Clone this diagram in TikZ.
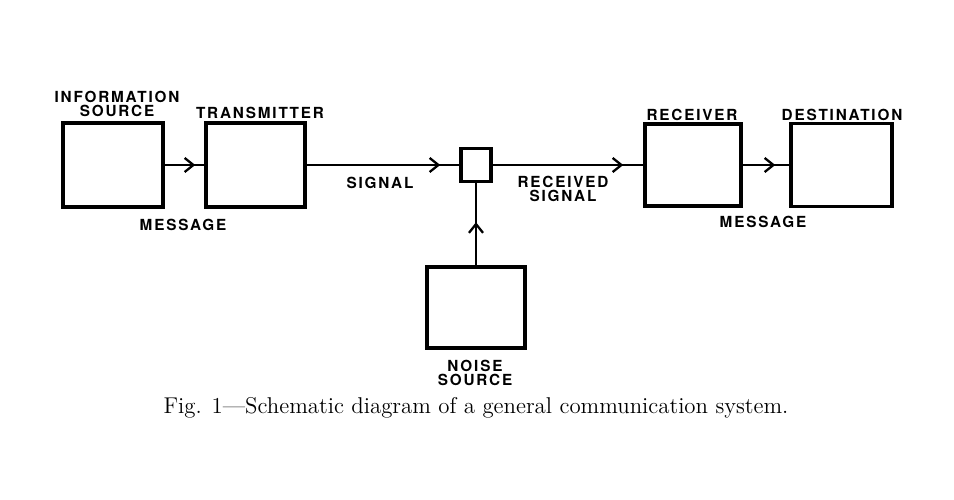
\documentclass[tikz,border=0pt]{standalone}
\usepackage{fontspec}
\newfontfamily\labelfont[LetterSpace=12]{TeX Gyre Heros}
\usetikzlibrary{arrows.meta,decorations.markings}

\tikzset{
    block/.style={draw, line width=2.1pt, inner sep=0pt, outer sep=1pt},
    lbl/.style={font=\labelfont\bfseries\fontsize{8.7}{7.9}\selectfont, align=center, inner sep=0pt},
    flow/.style={line width=1.5pt,
        decoration={markings, mark=at position #1 with {\arrow{Straight Barb[length=5pt,width=8pt,line width=1.3pt]}}},
        postaction={decorate}},
}

\begin{document}
\begin{tikzpicture}[x=0.02cm, y=0.02cm]
    \useasboundingbox (0,0) rectangle (954,500);
    % blocks
    \node[block, minimum width=2cm, minimum height=1.68cm] (info_src) at (113,335) {};
    \node[block, minimum width=1.98cm, minimum height=1.68cm] (transmitter) at (255.5,335) {};
    \node[block, minimum width=0.6cm, minimum height=0.66cm] (mixer) at (476,335) {};
    \node[block, minimum width=1.92cm, minimum height=1.64cm] (receiver) at (693,335) {};
    \node[block, minimum width=2.02cm, minimum height=1.66cm] (destination) at (841.5,335) {};
    \node[block, minimum width=1.96cm, minimum height=1.62cm] (noise_src) at (476,192.5) {};
    % connectors
    \draw[flow=-0.18cm] (info_src) -- (transmitter);
    \draw[flow=-0.38cm] (transmitter) -- (mixer);
    \draw[flow=-0.4cm] (mixer) -- (receiver);
    \draw[flow=-0.28cm] (receiver) -- (destination);
    \draw[flow=-0.78cm] (noise_src) -- (mixer);
    % labels
    \node[lbl] (lbl_info) at (117,396) {INFORMATION\\SOURCE};
    \node[lbl] (lbl_trans) at (260,387) {TRANSMITTER};
    \node[lbl] (lbl_msg_a) at (183,275) {MESSAGE};
    \node[lbl] (lbl_signal) at (380,317) {SIGNAL};
    \node[lbl] (lbl_rsignal) at (563,311.5) {RECEIVED\\SIGNAL};
    \node[lbl] (lbl_rcv) at (692,385) {RECEIVER};
    \node[lbl] (lbl_dest) at (842,385) {DESTINATION};
    \node[lbl] (lbl_msg_b) at (763,278) {MESSAGE};
    \node[lbl] (lbl_noise) at (475,127.5) {NOISE\\SOURCE};
    % caption
    \node[font=\fontsize{13}{15}\selectfont, inner sep=0pt] (caption) at (476,92)
        {Fig. 1---Schematic diagram of a general communication system.};
\end{tikzpicture}
\end{document}
